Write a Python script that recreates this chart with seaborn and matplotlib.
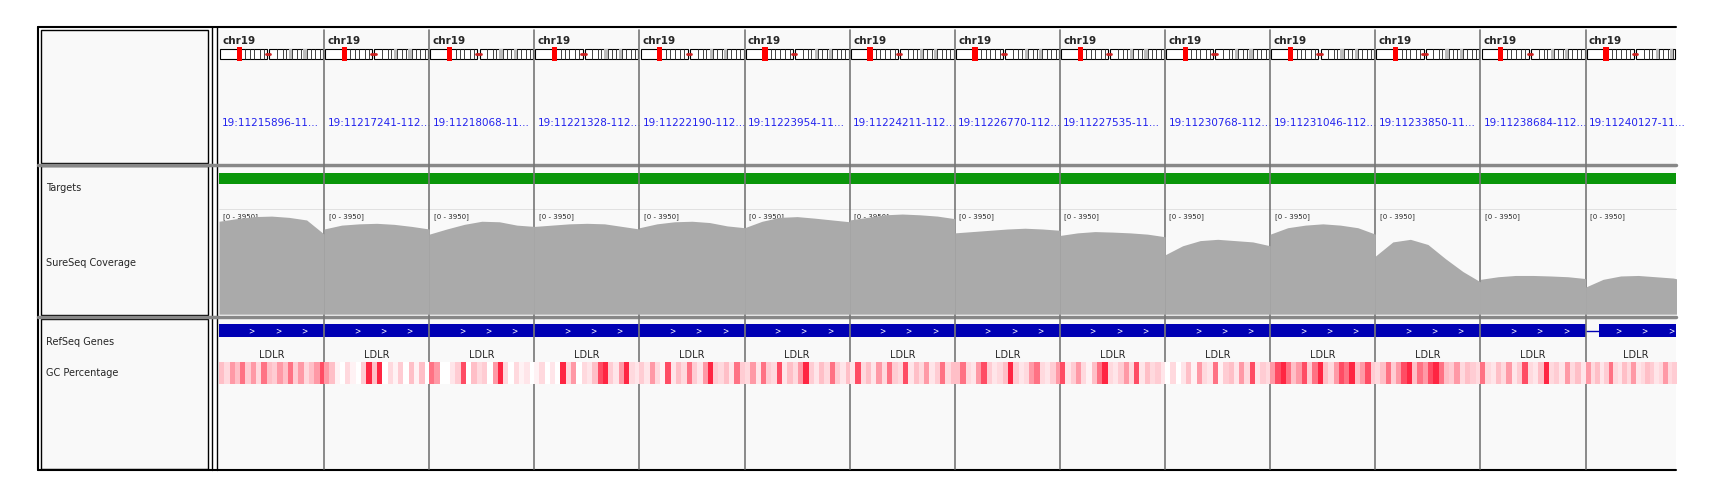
import numpy as np
import seaborn as sns
import matplotlib.pyplot as plt
from matplotlib.colors import LinearSegmentedColormap

# ---------------- data ----------------
loci = ["19:11215896-11...", "19:11217241-112...", "19:11218068-11...", "19:11221328-112...",
        "19:11222190-112...", "19:11223954-11...", "19:11224211-112...", "19:11226770-112...",
        "19:11227535-11...", "19:11230768-112...", "19:11231046-112...", "19:11233850-11...",
        "19:11238684-112...", "19:11240127-11..."]
cov_max = 3950
# coverage profile per panel (read depth, sampled across panel)
coverage = [
    [3600, 3700, 3780, 3800, 3750, 3650, 3100],
    [3300, 3450, 3500, 3520, 3480, 3400, 3300],
    [3100, 3300, 3480, 3600, 3580, 3450, 3400],
    [3400, 3450, 3500, 3520, 3500, 3400, 3300],
    [3350, 3500, 3580, 3600, 3550, 3420, 3350],
    [3350, 3600, 3750, 3780, 3720, 3650, 3580],
    [3650, 3750, 3850, 3880, 3850, 3800, 3700],
    [3150, 3200, 3250, 3300, 3330, 3300, 3250],
    [3050, 3150, 3200, 3180, 3150, 3100, 3000],
    [2300, 2650, 2850, 2900, 2850, 2800, 2650],
    [3100, 3350, 3450, 3500, 3450, 3350, 3100],
    [2250, 2800, 2900, 2700, 2150, 1650, 1250],
    [1350, 1450, 1500, 1500, 1480, 1450, 1380],
    [1050, 1350, 1480, 1500, 1450, 1400, 1250],
]
gc = [
    [.5, .3, .6, .5, .7, .4, .6, .3, .7, .5, .4, .6, .5, .7, .4, .6, .3, .5, .6, .8],
    [.6, .5, .1, 0, .3, .1, 0, .4, .9, .5, .9, 0, .3, .1, .4, 0, .5, .1, .5, 0],
    [.7, .6, 0, 0, .2, .4, .8, 0, .5, .3, .4, 0, .6, .9, .3, 0, .3, .1, .2, 0],
    [.1, .3, 0, .2, 0, .9, .3, .6, 0, .3, .2, .5, .8, .9, .4, .2, .6, .9, .3, .2],
    [.4, .2, .6, .3, .1, .8, .2, .5, .3, .7, .4, .2, .6, .9, .4, .3, .5, .2, .7, .4],
    [.3, .6, .2, .7, .4, .3, .8, .2, .5, .3, .6, .9, .4, .2, .5, .3, .7, .4, .2, .5],
    [.2, .8, .3, .5, .2, .6, .3, .7, .4, .3, .8, .2, .5, .3, .6, .2, .4, .7, .3, .5],
    [.5, .7, .3, .2, .6, .8, .4, .2, .3, .5, .9, .4, .2, .3, .6, .7, .3, .2, .4, .6],
    [.8, .2, .4, .6, .3, .1, .5, .7, .9, .3, .2, .4, .6, .3, .8, .2, .5, .3, .4, .2],
    [0, .3, 0, .2, .5, .1, .6, .3, .2, .7, .1, .4, .5, .2, .6, .3, .8, .2, .4, .3],
    [.6, .8, .9, .7, .5, .6, .8, .4, .7, .9, .5, .3, .6, .8, .7, .9, .5, .6, .8, .4],
    [.3, .5, .7, .4, .6, .8, .9, .5, .7, .6, .8, .9, .7, .5, .4, .6, .3, .5, .4, .3],
    [.7, .3, .2, .5, .3, .6, .2, .4, .8, .3, .2, .5, .9, .3, .4, .2, .6, .3, .5, .2],
    [.6, .3, .5, .2, .4, .7, .3, .2, .5, .3, .6, .2, .3, .5, .4, .2, .3, .6, .3, .4],
]
track_names = ["Targets", "SureSeq Coverage", "RefSeq Genes", "GC Percentage"]

# ---------------- layout (view units, scaled to the 1717x497 canvas) ----------------
W, H = 1568, 454
sns.set_style("white")
plt.rcParams['font.family'] = ['DejaVu Sans']
fig = plt.figure(figsize=(17.17, 4.97), dpi=100)
bg = fig.add_axes([0, 0, 1, 1])
bg.set_xlim(0, W); bg.set_ylim(H, 0); bg.axis("off")

x0, x1 = 200, 1531
pw = 96
rows = [(27, 149), (152, 288), (291, 428)]
for (ya, yb) in rows:
    bg.add_patch(plt.Rectangle((37, ya), 153, yb - ya, fc="#f9f9f9", ec="black", lw=1))
    bg.add_patch(plt.Rectangle((x0, ya), x1 - x0, yb - ya, fc="#f9f9f9", ec="none"))
bg.plot([35, 1531], [25, 25], color="black", lw=1.5)
bg.plot([35, 1531], [429, 429], color="black", lw=1.5)
bg.plot([35, 35], [25, 429], color="black", lw=1.5)
bg.plot([194, 194], [25, 429], color="black", lw=1)
bg.plot([198, 198], [25, 429], color="black", lw=1)
for yb in (150.5, 289.5):
    bg.plot([35, 1531], [yb, yb], color="#888888", lw=2.5)

bg.text(42, 172, track_names[0], fontsize=7, va="center")
bg.text(42, 240, track_names[1], fontsize=7, va="center")
bg.text(42, 312, track_names[2], fontsize=7, va="center")
bg.text(42, 341, track_names[3], fontsize=7, va="center")

cmap = LinearSegmentedColormap.from_list("gc", ["#ffffff", "#ffc0c8", "#ff0022"])

for i, name in enumerate(loci):
    px = x0 + i * pw
    right = min(px + pw, x1)
    w = right - px
    # ideogram
    bg.text(px + 3, 37, "chr19", fontsize=7.5, fontweight="bold", va="center")
    ideo_w = min(w - 2, 94)
    bg.add_patch(plt.Rectangle((px + 1, 45), 43, 9, fc="white", ec="black", lw=0.8))
    bg.add_patch(plt.Rectangle((px + 46, 45), ideo_w - 45, 9, fc="white", ec="black", lw=0.8))
    for k in (23, 27, 31, 36, 40, 52, 57, 60, 66, 70, 74, 79, 83, 87, 91):
        if k < ideo_w:
            bg.plot([px + 1 + k, px + 1 + k], [45, 54], color="#222222", lw=0.6)
    for k in (63, 76):
        if k + 3 < ideo_w:
            bg.add_patch(plt.Rectangle((px + 1 + k, 45), 3, 9, fc="#bbbbbb", ec="none"))
    bg.add_patch(plt.Rectangle((px + 16, 43), 5, 13, fc="red", ec="none"))
    bg.plot([px + 43, px + 47], [49.5, 49.5], color="#cc2222", lw=2)
    bg.text(px + 3, 112, name, fontsize=7.5, color="#2222ee", va="center")
    # targets
    bg.add_patch(plt.Rectangle((px, 158), w, 10, fc="#0a960a", ec="none"))
    bg.plot([px, right], [191, 191], color="#dddddd", lw=0.6)
    # coverage
    ax = fig.add_axes([px / W, 1 - 287 / H, w / W, (287 - 192) / H])
    xs = np.linspace(0, 1, len(coverage[i]))
    ax.fill_between(xs, coverage[i], color="#aaaaaa", lw=0)
    ax.set_xlim(0, w / pw); ax.set_ylim(0, cov_max * 1.02); ax.axis("off")
    bg.text(px + 4, 198, "[0 - 3950]", fontsize=5, va="center")
    # gene
    gx = px + (12 if i == 13 else 0)
    bg.add_patch(plt.Rectangle((gx, 296), right - gx, 12, fc="#0000b4", ec="none"))
    if i == 13:
        bg.plot([px, gx], [302, 302], color="#0000b4", lw=1)
    for k in range(1, 4):
        bg.text(px + k * 24 + 6, 302, ">", fontsize=5.5, color="white", va="center", ha="center")
    bg.text(px + w / 2 if i < 13 else px + 46, 324, "LDLR", fontsize=7, ha="center", va="center")
    # GC
    gax = fig.add_axes([px / W, 1 - 351 / H, w / W, 20 / H])
    gax.imshow(np.array(gc[i])[None, :], aspect="auto", cmap=cmap, vmin=0, vmax=1,
               interpolation="nearest")
    gax.axis("off")
    # separator
    if i > 0:
        bg.plot([px, px], [27, 428], color="#777777", lw=1.2, zorder=5)
bg.set_zorder(0)

fig.savefig("out.png", dpi=100)
